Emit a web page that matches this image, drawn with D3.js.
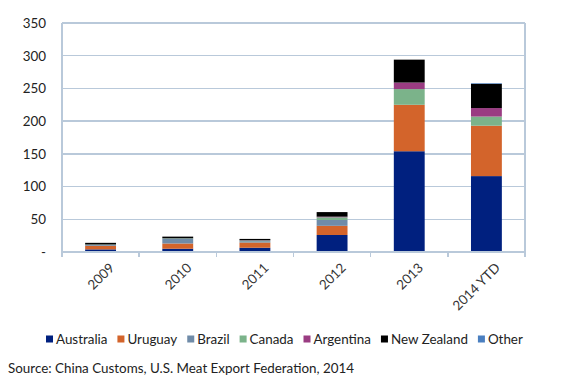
<!DOCTYPE html>
<html lang="en">
<head>
<meta charset="UTF-8">
<title>Chart</title>
<script src="https://cdn.jsdelivr.net/npm/d3@7"></script>
<style>
    body{ margin:0; background:#fff; }
    svg{ display:block; font-family: Lato, "Open Sans", sans-serif; }
    .grid-line{ stroke:#b9c9da; stroke-width:1.5; shape-rendering:crispEdges; }
</style>
</head>
<body>
<div id="root"></div>
<script>
    // data
    let years = ["2009","2010","2011","2012","2013","2014 YTD"]
    let countries = ["Australia","Uruguay","Brazil","Canada","Argentina","New Zealand","Other"]
    let colors = ["#00207f","#d3642b","#6f8ba8","#7bb38a","#9a3c82","#000000","#4a7fc0"]
    let australia  = [4,   5,   6.5, 26, 154, 116]
    let uruguay    = [5.5, 8,   8,   14, 71,  77]
    let brazil     = [1.5, 7.5, 2,   9,  0,   0]
    let canada     = [0.5, 0.5, 1,   4,  24,  14]
    let argentina  = [0,   0,   0.5, 1,  10,  13]
    let newZealand = [2.5, 2.5, 2,   7,  35,  37]
    let other      = [0,   0,   0,   0,  0,   1]
    let yTicks = [0,50,100,150,200,250,300,350]

    let series = [australia,uruguay,brazil,canada,argentina,newZealand,other]
    let rows = years.map((y,i)=>{
        let r = {year:y}
        countries.forEach((c,j)=>{ r[c] = series[j][i] })
        return r
    })

    let width = 563, height = 380, fs = 13.4
    let margin = {left:62, right:38, top:23, bottom:128}
    let innerW = width-margin.left-margin.right, innerH = height-margin.top-margin.bottom

    let svg = d3.select("#root").append("svg").attr("width",width).attr("height",height)
    let g = svg.append("g").attr("transform","translate("+margin.left+","+margin.top+")")

    let x = d3.scaleBand().domain(years).range([0,innerW]).paddingInner(0.6).paddingOuter(0.3)
    let y = d3.scaleLinear().domain([0,350]).range([innerH,0])

    // grid
    g.selectAll("line.grid-line.h").data(yTicks.filter(d=>d>0)).enter().append("line")
        .attr("class","grid-line h")
        .attr("x1",0).attr("x2",innerW)
        .attr("y1",d=>y(d)).attr("y2",d=>y(d))

    // stacked bars
    let stack = d3.stack().keys(countries)(rows)
    g.selectAll("g.layer").data(stack).enter().append("g")
        .attr("class","layer")
        .attr("fill",(d,i)=>colors[i])
        .selectAll("rect").data(d=>d).enter().append("rect")
        .attr("x",d=>x(d.data.year))
        .attr("width",x.bandwidth())
        .attr("y",d=>y(d[1]))
        .attr("height",d=>y(d[0])-y(d[1]))

    // y axis
    let yAxis = d3.axisLeft(y).tickValues(yTicks).tickSize(0).tickPadding(16)
        .tickFormat(d=> d===0 ? "-" : d)
    let ya = g.append("g").call(yAxis)
    ya.select(".domain").remove()
    ya.selectAll("text").attr("font-size",fs).attr("fill","#222").style("font-family","Lato, sans-serif")

    // left + right frame lines
    g.append("line").attr("class","grid-line").attr("x1",0).attr("x2",0).attr("y1",0).attr("y2",innerH+4)
    g.append("line").attr("class","grid-line").attr("x1",innerW).attr("x2",innerW).attr("y1",0).attr("y2",innerH+4)

    // x axis
    let xa = g.append("g").attr("transform","translate(0,"+innerH+")")
    xa.append("line").attr("class","grid-line").attr("x1",0).attr("x2",innerW).attr("y1",0).attr("y2",0)
    let step = innerW/years.length
    xa.selectAll("line.tk").data(d3.range(years.length+1)).enter().append("line")
        .attr("class","grid-line tk")
        .attr("x1",d=>d*step).attr("x2",d=>d*step).attr("y1",0).attr("y2",5)
    xa.selectAll("text").data(years).enter().append("text")
        .attr("transform",d=>"translate("+(x(d)+x.bandwidth()/2+8)+",10) rotate(-45)")
        .attr("text-anchor","end")
        .attr("dy","0.7em")
        .attr("font-size",fs).attr("fill","#333")
        .text(d=>d)

    // legend
    let legend = svg.append("g").attr("transform","translate(46,339)")
    let lx = 0
    countries.forEach((c,i)=>{
        let item = legend.append("g").attr("transform","translate("+lx+",0)")
        item.append("rect").attr("x",0).attr("y",-3.5).attr("width",7).attr("height",7).attr("fill",colors[i])
        let t = item.append("text").attr("x",10).attr("dy","0.35em").attr("font-size",fs).attr("fill","#222").text(c)
        lx += 10 + t.node().getComputedTextLength() + 10
    })

    // source
    svg.append("text").attr("x",8).attr("y",373).attr("font-size",fs).attr("fill","#222")
        .text("Source: China Customs, U.S. Meat Export Federation, 2014")
</script>
</body>
</html>
